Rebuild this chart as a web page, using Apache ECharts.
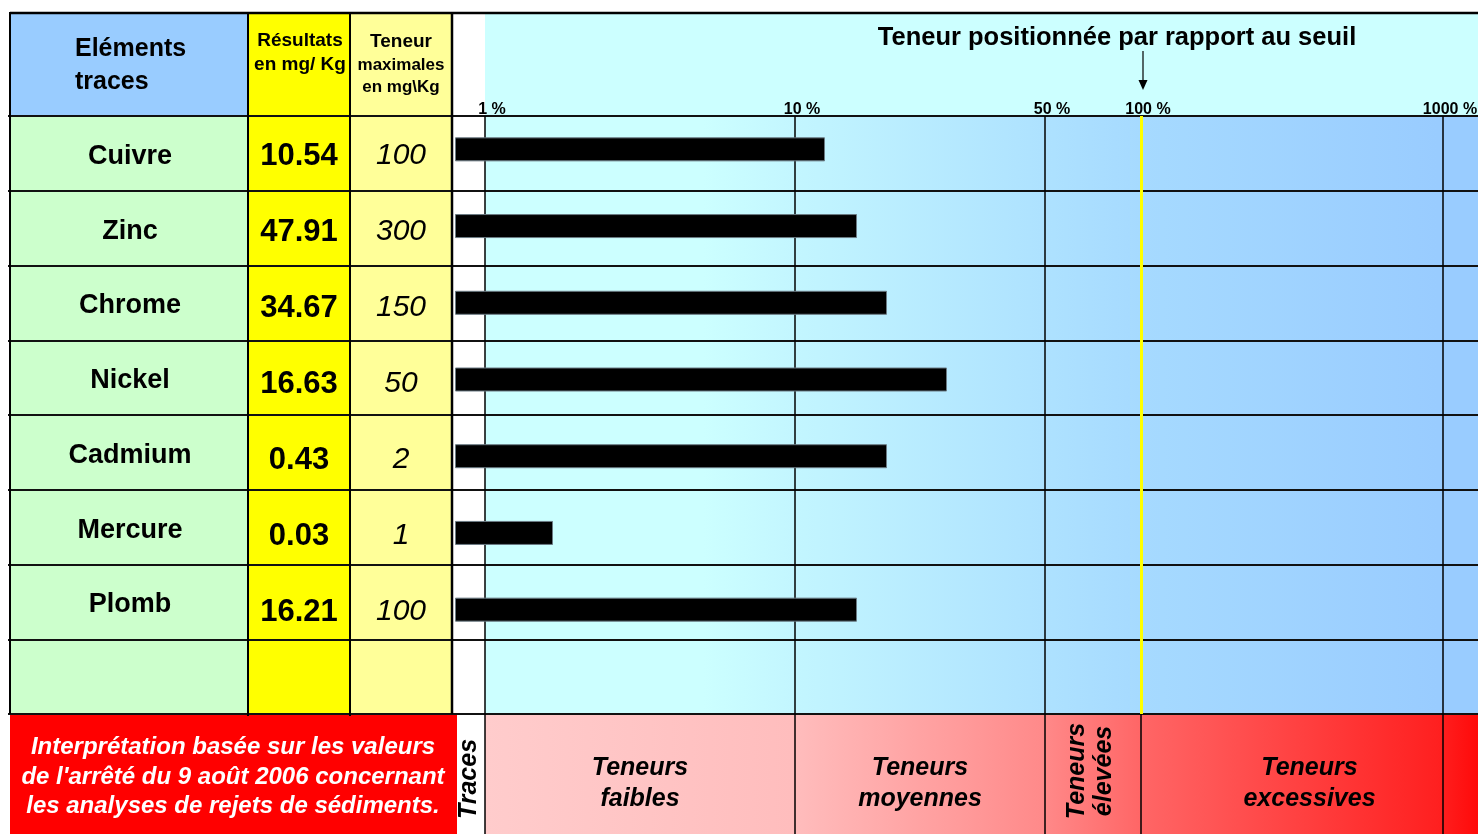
<!DOCTYPE html>
<html><head><meta charset="utf-8">
<script src="https://cdn.jsdelivr.net/npm/echarts@6/dist/echarts.min.js"></script>
<style>html,body{margin:0;padding:0;background:#fff}#c{width:1478px;height:834px}</style>
</head><body><div id="c"></div>
<script>
// ---- data ----
const elements = ['Cuivre', 'Zinc', 'Chrome', 'Nickel', 'Cadmium', 'Mercure', 'Plomb'];
const results = [10.54, 47.91, 34.67, 16.63, 0.43, 0.03, 16.21];
const maxValues = [100, 300, 150, 50, 2, 1, 100];
// bar length read on the threshold scale (scale units, 1 % = 30 ... 1000 % = 988)
const barLengths = [370, 402, 432, 492, 432, 98, 402];
const scaleTicks = [30, 340, 590, 686, 988];
const scaleLabels = ['1 %', '10 %', '50 %', '100 %', '1000 %'];
const scaleMax = 1023;
const bandNames = ['Traces', 'Teneurs\nfaibles', 'Teneurs\nmoyennes', 'Teneurs\nélevées', 'Teneurs\nexcessives'];
const bandBounds = [[0, 30], [30, 340], [340, 590], [590, 686], [686, 1023]];

const FF = 'Liberation Sans, Arial, sans-serif';
const chart = echarts.init(document.getElementById('c'), null, {renderer: 'canvas'});

const blueGrad = new echarts.graphic.LinearGradient(0, 0, 1, 0, [
  {offset: 0, color: '#CCFFFF'}, {offset: 0.22, color: '#CCFFFF'},
  {offset: 0.31, color: '#C3F6FF'}, {offset: 0.56, color: '#AEE2FF'},
  {offset: 0.66, color: '#A6DAFF'}, {offset: 0.96, color: '#99CCFF'},
  {offset: 1, color: '#99CCFF'}]);
const redGrad = new echarts.graphic.LinearGradient(0, 0, 1, 0, [
  {offset: 0, color: '#FFCCCC'}, {offset: 0.31, color: '#FFBDBD'},
  {offset: 0.56, color: '#FF8A8A'}, {offset: 0.66, color: '#FF6666'},
  {offset: 0.96, color: '#FF2020'}, {offset: 1, color: '#FF0A0A'}]);

const hidden = {show: false};
const bandLabel = (i) => {
  const base = {show: true, position: 'inside', color: '#000', fontFamily: FF, fontSize: 25,
    fontWeight: 'bold', fontStyle: 'italic', lineHeight: 31, offset: [0, 10]};
  if (i === 0) return Object.assign(base, {rotate: 90, offset: [-5, -1]});
  if (i === 3) return Object.assign(base, {rotate: 90, lineHeight: 27, offset: [3, -2]});
  return base;
};
const G = (o) => Object.assign({outerBoundsMode: 'none', containLabel: false}, o);

const option = {
  animation: false,
  backgroundColor: '#fff',
  grid: [
    G({left: 8, top: 116, width: 1470, height: 598}),      // table rows (lines)
    G({left: 455, top: 116, width: 1023, height: 598}),    // chart background
    G({left: 455, top: 111, width: 1023, height: 537}),    // bars
    G({left: 248, top: 118, width: 102, height: 532}),     // results
    G({left: 350, top: 118, width: 102, height: 532}),     // max values
    G({left: 455, top: 714, width: 1023, height: 120}),    // bands
    G({left: 8, top: 119, width: 240, height: 598})        // element names
  ],
  xAxis: [
    {gridIndex: 0, type: 'value', min: 0, max: 1, show: false},
    {gridIndex: 1, type: 'value', min: 0, max: scaleMax, position: 'top',
      axisLine: hidden, axisTick: hidden, splitLine: hidden,
      axisLabel: {show: true, customValues: scaleTicks, margin: -2, padding: [0, 0, 0, 14],
        formatter: v => scaleLabels[scaleTicks.indexOf(v)],
        fontFamily: FF, fontSize: 16, fontWeight: 'bold', color: '#000'}},
    {gridIndex: 2, type: 'value', min: 0, max: scaleMax, show: false},
    {gridIndex: 3, type: 'value', min: 0, max: 1, show: false},
    {gridIndex: 4, type: 'value', min: 0, max: 1, show: false},
    {gridIndex: 5, type: 'value', min: 0, max: scaleMax, show: false},
    {gridIndex: 6, type: 'value', min: 0, max: 1, show: false}
  ],
  yAxis: [
    {gridIndex: 0, type: 'category', inverse: true, data: elements.concat(['']), z: 5,
      axisLine: hidden, axisTick: hidden, axisLabel: hidden,
      splitLine: {show: true, interval: 0, lineStyle: {color: '#111', width: 2}}},
    {gridIndex: 1, type: 'category', inverse: true, data: elements.concat(['']), show: false},
    {gridIndex: 2, type: 'category', inverse: true, data: elements, show: false},
    {gridIndex: 3, type: 'category', inverse: true, data: elements, show: false},
    {gridIndex: 4, type: 'category', inverse: true, data: elements, show: false},
    {gridIndex: 5, type: 'value', min: 0, max: 1, show: false},
    {gridIndex: 6, type: 'category', inverse: true, data: elements.concat(['']), z: 6,
      axisLine: hidden, axisTick: hidden, splitLine: hidden,
      axisLabel: {inside: true, margin: 122, align: 'center', interval: 0,
        fontFamily: FF, fontSize: 27, fontWeight: 'bold', color: '#000'}}
  ],
  series: [
    {type: 'line', xAxisIndex: 1, yAxisIndex: 1, data: [], z: 1, silent: true,
      markArea: {silent: true, itemStyle: {color: blueGrad},
        data: [[{xAxis: scaleTicks[0]}, {xAxis: scaleMax}]]}},
    {type: 'line', xAxisIndex: 1, yAxisIndex: 1, data: [], z: 3, silent: true,
      markLine: {silent: true, symbol: ['none', 'none'], label: hidden,
        lineStyle: {color: '#000', width: 1.5, type: 'solid'},
        data: scaleTicks.map((v, i) => i === 3
          ? {xAxis: v, lineStyle: {color: '#FFFF00', width: 3, type: 'solid'}}
          : {xAxis: v})}},
    {type: 'bar', xAxisIndex: 2, yAxisIndex: 2, data: barLengths, barWidth: 24, z: 10,
      itemStyle: {color: '#000', borderColor: '#6b7b84', borderWidth: 1}},
    {type: 'scatter', xAxisIndex: 3, yAxisIndex: 3, z: 6, symbolSize: 1, silent: true,
      itemStyle: {color: 'rgba(0,0,0,0)', opacity: 1},
      data: results.map((v, i) => [0.5, i]),
      label: {show: true, position: 'inside', opacity: 1, formatter: p => results[p.dataIndex].toFixed(2),
        fontFamily: FF, fontSize: 31, fontWeight: 'bold', color: '#000'}},
    {type: 'scatter', xAxisIndex: 4, yAxisIndex: 4, z: 6, symbolSize: 1, silent: true,
      itemStyle: {color: 'rgba(0,0,0,0)', opacity: 1},
      data: maxValues.map((v, i) => [0.5, i]),
      label: {show: true, position: 'inside', opacity: 1, formatter: p => String(maxValues[p.dataIndex]),
        fontFamily: FF, fontSize: 30, fontStyle: 'italic', color: '#000'}},
    {type: 'line', xAxisIndex: 5, yAxisIndex: 5, data: [], z: 1, silent: true,
      markArea: {silent: true, itemStyle: {color: redGrad},
        data: [[{xAxis: scaleTicks[0]}, {xAxis: scaleMax}]]}},
    {type: 'line', xAxisIndex: 5, yAxisIndex: 5, data: [], z: 3, silent: true,
      markLine: {silent: true, symbol: ['none', 'none'], label: hidden,
        lineStyle: {color: '#000', width: 1.5, type: 'solid'},
        data: scaleTicks.map(v => ({xAxis: v}))}},
    {type: 'line', xAxisIndex: 5, yAxisIndex: 5, data: [], z: 4, silent: true,
      markArea: {silent: true, itemStyle: {color: 'rgba(0,0,0,0)'},
        data: bandBounds.map((b, i) => [
          {xAxis: b[0], name: bandNames[i], label: bandLabel(i)},
          {xAxis: b[1]}])}}
  ],
  graphic: [
    // backgrounds
    {type: 'rect', z: 0, silent: true, shape: {x: 10, y: 13, width: 238, height: 103}, style: {fill: '#99CCFF'}},
    {type: 'rect', z: 0, silent: true, shape: {x: 248, y: 13, width: 102, height: 103}, style: {fill: '#FFFF00'}},
    {type: 'rect', z: 0, silent: true, shape: {x: 350, y: 13, width: 102, height: 103}, style: {fill: '#FFFF99'}},
    {type: 'rect', z: 0, silent: true, shape: {x: 485, y: 13, width: 993, height: 103}, style: {fill: '#CCFFFF'}},
    {type: 'rect', z: 0, silent: true, shape: {x: 10, y: 116, width: 238, height: 598}, style: {fill: '#CCFFCC'}},
    {type: 'rect', z: 0, silent: true, shape: {x: 248, y: 116, width: 102, height: 598}, style: {fill: '#FFFF00'}},
    {type: 'rect', z: 0, silent: true, shape: {x: 350, y: 116, width: 102, height: 598}, style: {fill: '#FFFF99'}},
    {type: 'rect', z: 0, silent: true, shape: {x: 10, y: 714, width: 447, height: 120}, style: {fill: '#FF0000'}},
    // borders
    {type: 'line', z: 20, silent: true, shape: {x1: 10, y1: 13, x2: 1478, y2: 13}, style: {stroke: '#000', lineWidth: 2.5}},
    {type: 'line', z: 20, silent: true, shape: {x1: 10, y1: 12, x2: 10, y2: 714}, style: {stroke: '#000', lineWidth: 2}},
    {type: 'line', z: 20, silent: true, shape: {x1: 248, y1: 12, x2: 248, y2: 716}, style: {stroke: '#000', lineWidth: 2}},
    {type: 'line', z: 20, silent: true, shape: {x1: 350, y1: 12, x2: 350, y2: 716}, style: {stroke: '#000', lineWidth: 2}},
    {type: 'line', z: 20, silent: true, shape: {x1: 452, y1: 12, x2: 452, y2: 714}, style: {stroke: '#000', lineWidth: 2.5}},
    // header texts
    {type: 'text', z: 20, silent: true, x: 75, y: 66,
      style: {text: 'Eléments\ntraces', align: 'left', verticalAlign: 'middle', lineHeight: 33,
        font: 'bold 25px ' + FF, fill: '#000'}},
    {type: 'text', z: 20, silent: true, x: 300, y: 53,
      style: {text: 'Résultats\nen mg/ Kg', align: 'center', verticalAlign: 'middle', lineHeight: 24,
        font: 'bold 19px ' + FF, fill: '#000'}},
    {type: 'text', z: 20, silent: true, x: 401, y: 42,
      style: {text: 'Teneur', align: 'center', verticalAlign: 'middle', font: 'bold 19px ' + FF, fill: '#000'}},
    {type: 'text', z: 20, silent: true, x: 401, y: 65,
      style: {text: 'maximales', align: 'center', verticalAlign: 'middle', font: 'bold 17px ' + FF, fill: '#000'}},
    {type: 'text', z: 20, silent: true, x: 401, y: 87,
      style: {text: 'en mg\\Kg', align: 'center', verticalAlign: 'middle', font: 'bold 17px ' + FF, fill: '#000'}},
    {type: 'text', z: 20, silent: true, x: 1117, y: 38,
      style: {text: 'Teneur positionnée par rapport au seuil', align: 'center', verticalAlign: 'middle',
        font: 'bold 25.5px ' + FF, fill: '#000'}},
    // arrow
    {type: 'line', z: 20, silent: true, shape: {x1: 1143, y1: 51, x2: 1143, y2: 82}, style: {stroke: '#000', lineWidth: 1.2}},
    {type: 'polygon', z: 20, silent: true, shape: {points: [[1138.5, 80], [1147.5, 80], [1143, 90]]}, style: {fill: '#000'}},
    // footer note
    {type: 'text', z: 20, silent: true, x: 233, y: 777,
      style: {text: "Interprétation basée sur les valeurs\nde l'arrêté du 9 août 2006 concernant\nles analyses de rejets de sédiments.",
        align: 'center', verticalAlign: 'middle', lineHeight: 29.5,
        font: 'italic bold 24px ' + FF, fill: '#fff'}}
  ]
};
chart.setOption(option);
</script>
</body></html>
